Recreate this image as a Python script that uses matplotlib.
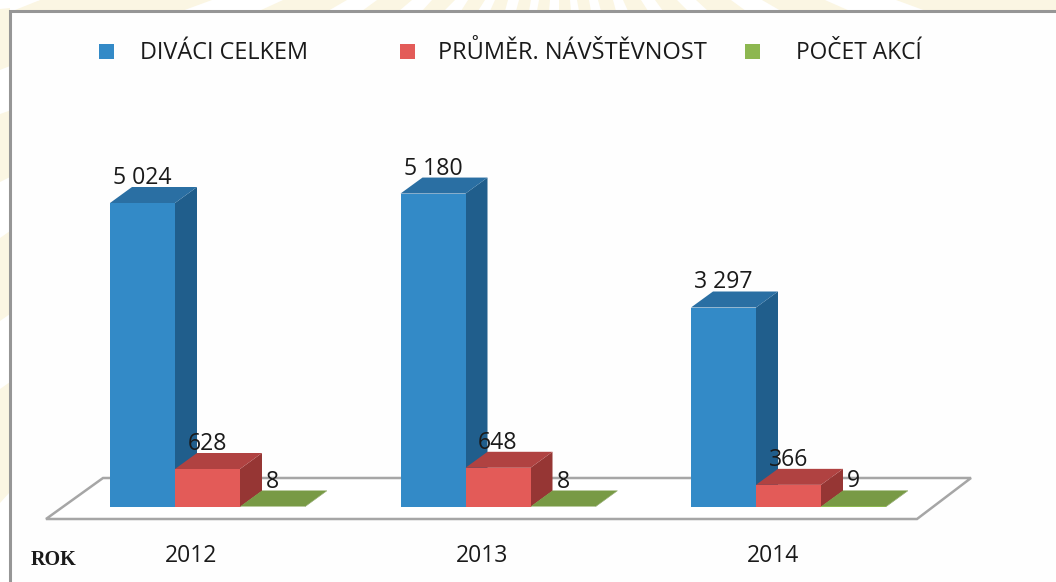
import matplotlib
matplotlib.use("Agg")
import matplotlib.pyplot as plt
from matplotlib.patches import Polygon, Rectangle

# ---- data ----
years = ["2012", "2013", "2014"]
series_names = ["DIVÁCI CELKEM", "PRŮMĚR. NÁVŠTĚVNOST", "POČET AKCÍ"]
divaci = [5024, 5180, 3297]
prumer = [628, 648, 366]
akce = [8, 8, 9]
value_labels_divaci = ["5 024", "5 180", "3 297"]
value_labels_prumer = ["628", "648", "366"]
value_labels_akce = ["8", "8", "9"]

# ---- styles: (front, top, side) ----
blue = ("#338AC7", "#2A6FA3", "#205E8C")
red = ("#E35B58", "#B04241", "#963634")
green = ("#8DB750", "#789A45", "#66843A")
legend_colors = ["#338AC7", "#E35B58", "#8DB750"]
W, H = 1056, 582
PX_PER_CAT = 290.5
PX_PER_VAL = 304 / 5024
X0, Y0 = 207.5, 507
BAR_W = 65 / PX_PER_CAT
DX, DY = 22 / PX_PER_CAT, 16 / PX_PER_VAL
TEXT = "#1A1A1A"

fig = plt.figure(figsize=(W / 100, H / 100), dpi=100, facecolor="white")

# pixel-space layer: page background, frame, legend, floor
bg = fig.add_axes([0, 0, 1, 1], zorder=0)
bg.set_xlim(0, W)
bg.set_ylim(H, 0)
bg.axis("off")

CREAM = "#FBF6E3"
top_rays = [(40, 212, 182, 0), (283, 347, 328, 259), (377, 412, 399, 362), (432, 455, 444, 422),
            (468, 485, 478, 461), (495, 508, 505, 490), (519, 531, 529, 516), (539, 550, 549, 537),
            (559, 570, 571, 559), (577, 589, 591, 579), (598, 613, 616, 601), (623, 641, 648, 628),
            (655, 677, 688, 663), (696, 731, 746, 708), (762, 825, 850, 781), (896, 1056, 1056, 926)]
for a, b, c, d in top_rays:
    bg.add_patch(Polygon([(a, 0), (b, 0), (c, 11), (d, 11)], fc=CREAM, ec="none"))
bg.add_patch(Polygon([(0, 16), (40, 0), (0, 0)], fc="white", ec="none"))
left_rays = [(9, 8, 70, 66), (114, 110.5, 182, 177), (238, 231, 321, 314), (389, 382, 503, 492)]
for a, b, c, d in left_rays:
    bg.add_patch(Polygon([(0, a), (10, b), (10, d), (0, c)], fc=CREAM, ec="none"))

bg.add_patch(Rectangle((10, 11), W, H, fc="#FEFEFE", ec="#969696", lw=2.2))

# floor
bg.add_patch(Polygon([(46, 519), (917, 519), (971, 478), (103, 478)], closed=True,
                     fc="white", ec="#A6A6A6", lw=1.8, joinstyle="miter"))

# legend
legend_x = [99, 400, 745]
legend_text_x = [140, 438, 796]
for lx, tx, name, col, fs in zip(legend_x, legend_text_x, series_names, legend_colors, [16.9, 17.0, 16.4]):
    bg.add_patch(Rectangle((lx, 44), 15, 15, fc=col, ec="none"))
    bg.text(tx, 53, name, fontsize=fs, family="Open Sans", color=TEXT, va="center", ha="left")

bg.text(31, 560, "ROK", fontsize=14.5, family="Liberation Serif", weight="bold",
        color=TEXT, va="center", ha="left")

# data layer: x in category units, y in data values
ax = fig.add_axes([0, 0, 1, 1], zorder=1)
ax.patch.set_alpha(0)
ax.set_xlim(-X0 / PX_PER_CAT, (W - X0) / PX_PER_CAT)
ax.set_ylim(-(H - Y0) / PX_PER_VAL, Y0 / PX_PER_VAL)
ax.axis("off")

groups = [(divaci, blue, value_labels_divaci, -1), (prumer, red, value_labels_prumer, 0),
          (akce, green, value_labels_akce, 1)]

for i in range(len(years)):
    for vals, cols, labs, off in groups:
        v = vals[i]
        c = i + off * BAR_W
        l, r = c - BAR_W / 2, c + BAR_W / 2
        ax.bar(c, v, width=BAR_W, color=cols[0], linewidth=0, zorder=3 + i + off * 0.1)
        z = 3 + i + off * 0.1 - 0.05
        ax.add_patch(Polygon([(r, 0), (r + DX, DY), (r + DX, v + DY), (r, v)], fc=cols[2], ec="none", zorder=z))
        ax.add_patch(Polygon([(l, v), (l + DX, v + DY), (r + DX, v + DY), (r, v)], fc=cols[1], ec="none", zorder=z))
    ax.text(i - 16 / PX_PER_CAT, -(556 - Y0) / PX_PER_VAL, years[i], ha="center", va="center",
            fontsize=16.5, family="Open Sans", color=TEXT, zorder=20)

for vals, cols, labs, off in groups:
    for i, (v, t) in enumerate(zip(vals, labs)):
        ax.annotate(t, (i + off * BAR_W, v), xytext=(0, 18), textcoords="offset points",
                    ha="center", va="center", fontsize=16.6, family="Open Sans", color=TEXT, zorder=20)

fig.savefig("out.png", dpi=100, facecolor="white")
